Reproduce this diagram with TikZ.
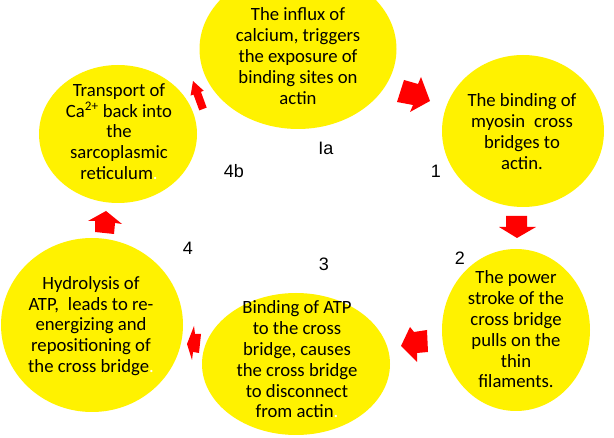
\documentclass[tikz,border=0pt]{standalone}
\usepackage{fontspec}
\setmainfont{Carlito}
\newfontfamily\arialf{Liberation Sans}
\usetikzlibrary{shapes.geometric}
\tikzset{
  blob/.style={ellipse, fill=yellow, draw=none, inner sep=0pt},
  txt/.style={align=center, text=black, inner sep=0pt, font=\fontsize{18.7}{20.8}\selectfont},
  num/.style={text=black, inner sep=0pt, font=\arialf\fontsize{18}{20}\selectfont},
  blockarr/.style={fill=red, draw=none},
}
\begin{document}
\begin{tikzpicture}[x=1pt,y=-1pt]
\useasboundingbox (0,0) rectangle (614,438);
\clip (0,0) rectangle (614,438);
\fill[white] (0,0) rectangle (614,438);

% ellipses
\node[blob, minimum width=197pt, minimum height=160pt] (influx) at (298,49) {};
\node[blob, minimum width=162pt, minimum height=152pt] (bind) at (523,131) {};
\node[blob, minimum width=158pt, minimum height=138pt] (transp) at (118,134) {};
\node[blob, minimum width=182pt, minimum height=174pt] (hydro) at (92,325) {};
\node[blob, minimum width=188pt, minimum height=142pt] (atp) at (296,364) {};
\node[blob, minimum width=148pt, minimum height=162pt] (power) at (516,330) {};

% texts
\node[txt] (tinflux) at (298,56) {The influx of\\calcium, triggers\\the exposure of\\binding sites on\\actin};
\node[txt] (tbind) at (522,131.5) {The binding of\\myosin\hspace{0.25em} cross\\bridges to\\actin.};
\node[txt] (ttransp) at (119,131.5) {Transport of\\Ca\textsuperscript{2+} back into\\the\\sarcoplasmic\\reticulum\textcolor{white}{.}};
\node[txt] (thydro) at (91,326) {Hydrolysis of\\ATP,\hspace{0.25em} leads to re-\\energizing and\\repositioning of\\the cross bridge\textcolor{white}{.}};
\node[txt] (tatp) at (297,359.5) {Binding of ATP\\to the cross\\bridge, causes\\the cross bridge\\to disconnect\\from actin\textcolor{white}{.}};
\node[txt] (tpower) at (516,329.5) {The power\\stroke of the\\cross bridge\\pulls on the\\thin\\filaments.};

% step numbers
\node[num] (nIa) at (326,148) {Ia};
\node[num] (n4b) at (234,171) {4b};
\node[num] (n1) at (436,171) {1};
\node[num] (n2) at (460,258) {2};
\node[num] (n3) at (324,264) {3};
\node[num] (n4) at (188,248) {4};

% block arrows
% transport -> influx
\fill[blockarr] (193,81) -- (203.8,90.8) -- (200.9,91.8) -- (206.7,107.6) -- (199.3,110.4) -- (193.5,94.6) -- (190.6,95.6) -- cycle;
% influx -> binding
\fill[blockarr] (404,80) -- (418,84) -- (421,77) -- (430,101) -- (410,112) -- (413,105) -- (397,102) -- cycle;
% binding -> power stroke
\fill[blockarr] (506,216) -- (527,216) -- (527,227) -- (536,227) -- (517,238) -- (499,227) -- (506,227) -- cycle;
% power stroke -> ATP
\fill[blockarr] (401,346) -- (410,327) -- (414,332) -- (427,330) -- (428,352) -- (417,353) -- (417,362) -- cycle;
% ATP -> hydrolysis
\fill[blockarr] (187,344) -- (194,326) -- (195,334) -- (201,334) -- (199,353) -- (193,352) -- (192,360) -- cycle;
% hydrolysis -> transport
\fill[blockarr] (106,211) -- (122,224) -- (115,223) -- (114,234) -- (95,232) -- (95,221) -- (88,221) -- cycle;
\end{tikzpicture}
\end{document}
